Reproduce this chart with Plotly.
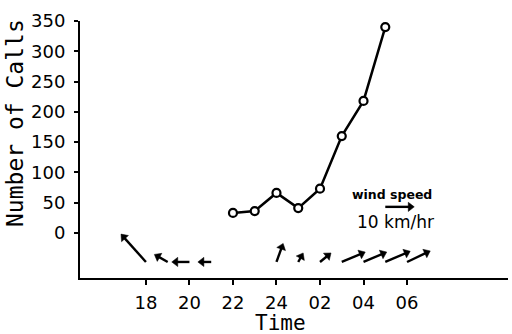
import math
import plotly.graph_objects as go

# ---- data ----
call_hours = [22, 23, 24, 25, 26, 27, 28, 29]          # 24 = midnight, 26 = 02 ...
call_counts = [33, 36, 66, 41, 73, 160, 218, 340]

wind_hours = [18, 19, 20, 21, 24, 25, 26, 27, 28, 29, 30]
wind_u = [-8.6, -4.6, -6.1, -4.6, 2.3, 1.7, 3.8, 8.1, 8.0, 8.6, 8.0]   # km/h east
wind_v = [9.6, 2.6, 0.0, 0.0, 6.4, 3.1, 3.1, 3.4, 3.4, 3.7, 3.8]      # km/h north

x_tickvals = [18, 20, 22, 24, 26, 28, 30]
x_ticktext = ["18", "20", "22", "24", "02", "04", "06"]
y_tickvals = [0, 50, 100, 150, 200, 250, 300, 350]

# ---- scales for wind vectors ----
X_RANGE = [14.97, 34.64]
Y_RANGE = [-74.5, 350]
W, H = 512, 334
M = dict(l=80, r=4, t=21, b=56)
px_per_hour = (W - M["l"] - M["r"]) / (X_RANGE[1] - X_RANGE[0])
px_per_unit = (H - M["t"] - M["b"]) / (Y_RANGE[1] - Y_RANGE[0])
PX_PER_KMH = 2.9
HEAD = 8          # marker size of arrow head
wind_base = -48
legend_hour, legend_y, legend_speed = 29, 43, 10

FONT = "DejaVu Sans"
MONO = "DejaVu Sans Mono"


def arrow_pts(x0, y0, u, v):
    """tail point and head-marker centre (tip of triangle lands on vector end)"""
    n = math.hypot(u, v)
    back = HEAD / 2.0
    hx = x0 + (u * PX_PER_KMH - back * u / n) / px_per_hour
    hy = y0 + (v * PX_PER_KMH - back * v / n) / px_per_unit
    return hx, hy


ax_, ay_, sz = [], [], []
for h, u, v in zip(wind_hours, wind_u, wind_v):
    hx, hy = arrow_pts(h, wind_base, u, v)
    ax_ += [h, hx, None]
    ay_ += [wind_base, hy, None]
    sz += [0, HEAD, 0]
# legend arrow
hx, hy = arrow_pts(legend_hour, legend_y, legend_speed, 0)
ax_ += [legend_hour, hx, None]
ay_ += [legend_y, hy, None]
sz += [0, HEAD, 0]

fig = go.Figure()
fig.add_trace(go.Scatter(
    x=call_hours, y=call_counts, mode="lines+markers",
    line=dict(color="black", width=2.5),
    marker=dict(symbol="circle", size=8, color="white",
                line=dict(color="black", width=2.2)),
    showlegend=False, cliponaxis=False,
))
fig.add_trace(go.Scatter(
    x=ax_, y=ay_, mode="lines+markers",
    line=dict(color="black", width=2.4),
    marker=dict(symbol="triangle-up", size=sz, color="black",
                angleref="previous", opacity=1,
                line=dict(width=0.5, color="black")),
    showlegend=False, cliponaxis=False, connectgaps=False,
))

ann = []
ann.append(dict(x=29.31, y=64, xref="x", yref="y", text="wind speed",
                showarrow=False,
                font=dict(family=FONT, size=12.5, color="black", weight="bold")))
ann.append(dict(x=29.45, y=18, xref="x", yref="y", text="10 km/hr",
                showarrow=False, font=dict(family=FONT, size=17, color="black")))
# axis titles
ann.append(dict(x=-0.152, y=0.603, xref="paper", yref="paper",
                text="Number of Calls", textangle=-90, showarrow=False,
                xanchor="center", yanchor="middle",
                font=dict(family=MONO, size=23, color="black")))
ann.append(dict(x=24.2, y=-0.175, xref="x", yref="paper", text="Time",
                showarrow=False, xanchor="center", yanchor="middle",
                font=dict(family=MONO, size=21, color="black")))

fig.update_layout(
    width=W, height=H, margin=M,
    paper_bgcolor="white", plot_bgcolor="white",
    annotations=ann,
    font=dict(family=FONT, size=17, color="black"),
)
fig.update_xaxes(range=X_RANGE, tickvals=x_tickvals, ticktext=x_ticktext,
                 showline=True, linecolor="black", linewidth=2,
                 ticks="outside", ticklen=5, tickwidth=1.5, tickcolor="black",
                 showgrid=False, zeroline=False, ticklabelstandoff=2,
                 tickfont=dict(family=FONT, size=18, color="black"))
fig.update_yaxes(range=Y_RANGE, tickvals=y_tickvals,
                 showline=True, linecolor="black", linewidth=2,
                 ticks="outside", ticklen=4, tickwidth=1.5, tickcolor="black",
                 showgrid=False, zeroline=False, ticklabelstandoff=5,
                 tickfont=dict(family=FONT, size=18, color="black"))

fig.write_html("out.html")
